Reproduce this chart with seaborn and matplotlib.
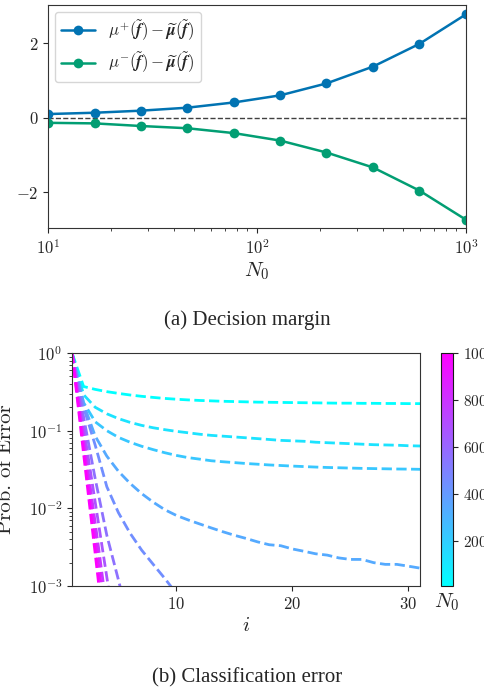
#
# Decision margin and classification error vs N0
#

import numpy as np
import pandas as pd
import matplotlib
matplotlib.use('Agg')
import matplotlib.pyplot as plt
import matplotlib.colors as mcolors
import matplotlib.cm as cm
import seaborn as sns

# --- (a) decision margin -----------------------------------------------------
n0 = [10, 16.7, 27.8, 46.4, 77.4, 129, 215, 359, 599, 1000]
margin_plus = [0.10, 0.135, 0.19, 0.27, 0.41, 0.60, 0.92, 1.37, 1.98, 2.77]
margin_minus = [-0.135, -0.15, -0.22, -0.28, -0.41, -0.61, -0.93, -1.33, -1.95, -2.73]
lab_plus = r'$\mu^{+}(\widetilde{\mathbfit{f}}) - \widetilde{\mathbfit{\mu}}(\widetilde{\mathbfit{f}})$'
lab_minus = r'$\mu^{-}(\widetilde{\mathbfit{f}}) - \widetilde{\mathbfit{\mu}}(\widetilde{\mathbfit{f}})$'

# --- (b) classification error per iteration, one curve per N0 ----------------
err = [
    [1.0, 0.37, 0.34, 0.318, 0.302, 0.288, 0.277, 0.268, 0.26, 0.254, 0.249, 0.245,
     0.242, 0.239, 0.237, 0.235, 0.233, 0.232, 0.231, 0.23, 0.229, 0.228, 0.227,
     0.226, 0.226, 0.225, 0.225, 0.224, 0.224, 0.223, 0.223],
    [1.0, 0.29, 0.2, 0.165, 0.143, 0.128, 0.117, 0.109, 0.103, 0.098, 0.094, 0.09,
     0.087, 0.085, 0.083, 0.081, 0.079, 0.077, 0.075, 0.074, 0.073, 0.071, 0.07,
     0.069, 0.068, 0.067, 0.066, 0.0655, 0.065, 0.064, 0.0635],
    [1.0, 0.23, 0.13, 0.1, 0.082, 0.071, 0.063, 0.057, 0.052, 0.048, 0.045, 0.043,
     0.041, 0.0398, 0.0388, 0.0378, 0.037, 0.0362, 0.0356, 0.035, 0.0345, 0.034,
     0.0336, 0.0333, 0.033, 0.0327, 0.0325, 0.0323, 0.0321, 0.032, 0.0318],
    [1.0, 0.22, 0.085, 0.047, 0.03, 0.021, 0.0155, 0.012, 0.0096, 0.0081, 0.0071,
     0.0063, 0.0056, 0.005, 0.0045, 0.0041, 0.0037, 0.0034, 0.0033, 0.003, 0.0028,
     0.0026, 0.0025, 0.0023, 0.0022, 0.0022, 0.002, 0.0019, 0.0019, 0.0018, 0.0017],
    [1.0, 0.2, 0.065, 0.019, 0.0088, 0.0048, 0.0029, 0.0019, 0.00125, 0.0008,
     0.00052, 0.00034],
    [1.0, 0.15, 0.024, 0.0045, 0.0012, 0.0003, 0.00008],
    [1.0, 0.11, 0.012, 0.0013, 0.00014],
    [1.0, 0.08, 0.0065, 0.0005],
    [1.0, 0.065, 0.0042, 0.00027],
    [1.0, 0.05, 0.0026, 0.00013],
]

sns.set_style('ticks')
plt.rcParams['font.family'] = ['cmr10', 'DejaVu Sans']
plt.rcParams['mathtext.fontset'] = 'cm'
plt.rcParams['axes.formatter.use_mathtext'] = True
plt.rcParams['axes.unicode_minus'] = True
plt.rcParams['axes.edgecolor'] = '0.2'
plt.rcParams['font.size'] = 11

fig = plt.figure(figsize=(4.84, 6.9), dpi=100)
ax1 = fig.add_axes([0.0992, 0.6696, 0.8636, 0.3232])
ax2 = fig.add_axes([0.1488, 0.1507, 0.719, 0.3377])
cax = fig.add_axes([0.9112, 0.1507, 0.0248, 0.3377])

# top panel
df1 = pd.DataFrame({
    'N0': n0 * 2,
    'gap': margin_plus + margin_minus,
    'curve': [lab_plus] * len(n0) + [lab_minus] * len(n0),
})
ax1.set_xscale('log')
ax1.axhline(0, color='0.25', ls='--', lw=1)
sns.lineplot(data=df1, x='N0', y='gap', hue='curve', marker='o', markersize=7,
             markeredgewidth=0, lw=1.8, palette=['#0173b2', '#029e73'],
             estimator=None, ax=ax1)
ax1.set_xlim(10, 1000)
ax1.set_ylim(-2.95, 3.02)
ax1.set_yticks([-2, 0, 2])
ax1.set_xlabel(r'$N_0$', fontsize=15, labelpad=3)
ax1.set_ylabel('')
ax1.legend(loc='upper left', fontsize=12, frameon=True, title=None,
           borderaxespad=0.4, handlelength=2.0, labelspacing=0.45)
ax1.tick_params(labelsize=12)

# bottom panel
rows = []
for k, vals in enumerate(err):
    for j, v in enumerate(vals):
        rows.append({'i': j + 1, 'p': v, 'k': k})
df2 = pd.DataFrame(rows)
colors = [plt.cm.cool(k / 9) for k in range(len(err))]
ax2.set_yscale('log')
sns.lineplot(data=df2, x='i', y='p', hue='k', palette=colors, lw=2, ls='--',
             estimator=None, legend=False, ax=ax2)
ax2.set_xlim(1, 31)
ax2.set_ylim(1e-3, 1)
ax2.set_xticks([10, 20, 30])
ax2.set_xlabel(r'$i$', fontsize=15, labelpad=4)
ax2.set_ylabel('Prob. of Error', fontsize=15)
ax2.yaxis.set_label_coords(-0.165, 0.5)
ax2.tick_params(labelsize=12)

norm = mcolors.Normalize(vmin=10, vmax=1000)
sm = cm.ScalarMappable(norm=norm, cmap='cool')
cbar = fig.colorbar(sm, cax=cax, ticks=[200, 400, 600, 800, 1000])
cbar.ax.tick_params(labelsize=11)
cbar.ax.set_xlabel(r'$N_0$', fontsize=15, labelpad=4)
cbar.outline.set_edgecolor('0.1')

fig.text(0.51, 0.536, '(a) Decision margin', ha='center', va='center',
         family=['Liberation Serif'], fontsize=15)
fig.text(0.51, 0.017, '(b) Classification error', ha='center', va='center',
         family=['Liberation Serif'], fontsize=15)

fig.savefig('out.png', dpi=100)
